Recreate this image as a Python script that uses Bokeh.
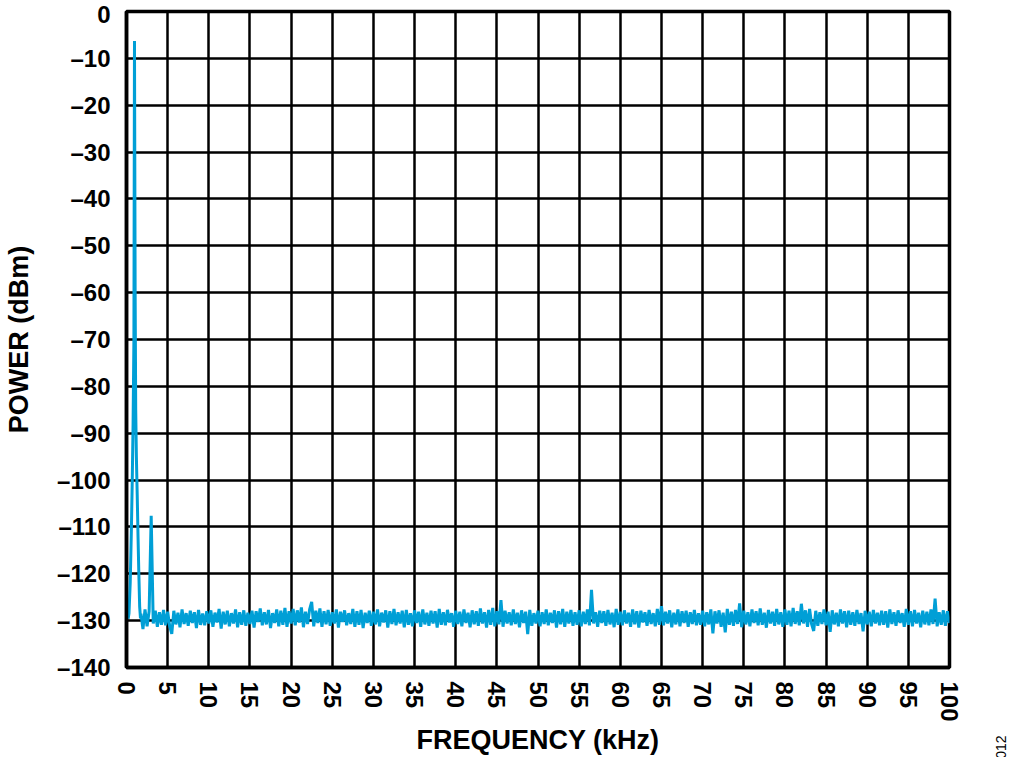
import numpy as np
from bokeh.plotting import figure
from bokeh.models import Range1d, FixedTicker, Label
from bokeh.embed import file_html
from bokeh.resources import INLINE

# ---------------- data ----------------
x_ticks = list(range(0, 101, 5))
y_ticks = list(range(-140, 1, 10))
x_tick_labels = {t: str(t) for t in x_ticks}
y_tick_labels = {t: ("\u2013" + str(-t) if t < 0 else "0") for t in y_ticks}

x_label = "FREQUENCY (kHz)"
y_label = "POWER (dBm)"
fig_code = "012"

# fundamental tone near 1 kHz (kHz, dBm)
peak_freq = [0.2, 0.3, 0.45, 0.6, 0.7, 0.8, 0.9, 0.97, 1.05, 1.12, 1.2, 1.3, 1.4, 1.5, 1.6, 1.7]
peak_power = [-129.6, -128.5, -122.0, -110.0, -100.0, -88.0, -70.0, -6.3,
              -60.0, -85.0, -95.0, -103.0, -112.0, -120.0, -127.0, -129.5]

# noise floor sampled every 0.25 kHz from 1.75 kHz
noise_start = 1.75
noise_step = 0.25
noise_a = [-128.5, -131.8, -127.6, -131.2, -128.0, -107.6, -130.6, -127.9, -131.3, -128.2, -130.9, -127.7, -131.0]
noise_05 = [-128.1, -131.2, -132.8, -127.9, -130.8, -128.3, -131.4, -127.6, -130.7, -128.4,
            -131.1, -127.9, -130.5, -128.2, -131.6, -127.7, -130.9, -128.5, -131.0, -128.0]
noise_10 = [-130.6, -127.8, -131.3, -128.3, -130.4, -127.5, -131.7, -128.1, -130.8, -127.9,
            -131.2, -128.4, -130.6, -127.6, -131.4, -128.2, -130.9, -127.8, -131.1, -128.3]
noise_15 = [-130.7, -127.9, -131.5, -128.0, -130.3, -127.4, -131.0, -128.2, -130.8, -127.7,
            -131.6, -128.4, -130.5, -127.6, -131.2, -127.9, -130.9, -127.3, -131.3, -128.0]
noise_20 = [-130.6, -127.5, -131.0, -127.8, -130.4, -127.2, -131.4, -128.1, -130.7, -127.6,
            -126.0, -131.2, -127.9, -130.5, -127.4, -131.3, -128.0, -130.8, -127.7, -131.1]
noise_25 = [-128.2, -130.6, -127.6, -131.5, -128.1, -130.3, -127.8, -131.0, -128.4, -130.7,
            -127.5, -131.3, -128.0, -130.9, -127.7, -131.6, -128.3, -130.5, -127.9, -131.1]
noise_30 = [-128.1, -130.8, -127.6, -131.2, -128.3, -130.4, -127.8, -131.5, -128.0, -130.7,
            -127.5, -131.0, -128.2, -130.6, -127.9, -131.4, -127.7, -130.9, -128.4, -131.2]
noise_35 = [-127.8, -130.5, -128.1, -131.3, -127.6, -130.8, -128.3, -131.1, -127.9, -130.6,
            -128.0, -131.5, -127.5, -130.9, -128.2, -131.0, -127.7, -130.4, -128.4, -131.3]
noise_40 = [-127.9, -130.7, -128.1, -131.2, -127.6, -130.5, -128.3, -131.4, -127.8, -130.8,
            -128.0, -131.1, -127.4, -130.6, -128.2, -131.5, -127.7, -130.9, -127.3, -131.2]
noise_45 = [-128.0, -130.8, -125.6, -131.3, -127.9, -130.6, -128.2, -131.0, -127.6, -130.7,
            -128.3, -131.4, -127.8, -130.5, -128.1, -132.9, -127.7, -131.1, -128.4, -130.6]
noise_50 = [-127.9, -131.2, -128.2, -130.7, -127.6, -131.0, -128.3, -130.5, -127.8, -131.5,
            -128.0, -130.8, -127.5, -131.3, -128.1, -130.6, -127.7, -131.1, -128.2, -130.9]
noise_55 = [-127.8, -131.2, -128.1, -130.7, -127.6, -131.0, -123.4, -130.6, -128.2, -131.3,
            -127.9, -130.5, -128.0, -131.1, -127.7, -130.8, -128.3, -131.4, -127.5, -130.9]
noise_60 = [-128.1, -131.0, -127.8, -130.6, -128.3, -131.3, -127.6, -130.8, -128.0, -131.5,
            -127.9, -130.4, -128.2, -131.1, -127.7, -130.7, -128.4, -131.2, -127.5, -130.9]
noise_65 = [-126.9, -131.0, -128.1, -130.6, -127.8, -131.4, -128.3, -130.8, -127.6, -131.2,
            -128.0, -130.5, -127.9, -131.3, -128.2, -130.7, -127.7, -131.0, -128.4, -130.9]
noise_70 = [-127.9, -131.2, -128.2, -130.8, -127.6, -132.7, -128.0, -130.6, -127.8, -131.3,
            -128.3, -132.5, -127.5, -130.9, -128.1, -131.1, -127.7, -130.7, -126.3, -131.4]
noise_75 = [-127.9, -130.8, -128.2, -131.2, -127.6, -130.5, -128.0, -131.0, -127.4, -130.9,
            -128.3, -131.5, -127.7, -130.6, -128.1, -131.1, -127.5, -130.8, -128.2, -131.3]
noise_80 = [-127.6, -130.9, -127.9, -131.2, -127.3, -130.7, -128.0, -131.0, -126.4, -130.6,
            -127.8, -131.3, -127.5, -130.8, -132.2, -127.9, -131.1, -128.2, -130.7, -127.6]
noise_85 = [-131.0, -128.1, -132.4, -127.8, -130.8, -128.3, -131.2, -127.6, -130.6, -128.0,
            -131.4, -127.9, -130.9, -128.2, -131.1, -127.7, -130.7, -128.4, -132.3, -127.9]
noise_90 = [-130.8, -128.1, -131.2, -127.7, -130.6, -128.3, -131.0, -127.9, -130.9, -128.0,
            -131.5, -127.6, -130.7, -128.2, -131.1, -127.8, -130.5, -128.4, -131.3, -127.5]
noise_95 = [-130.9, -128.0, -131.2, -127.7, -130.6, -128.3, -131.4, -127.9, -130.8, -128.1,
            -131.0, -127.6, -130.7, -125.3, -131.2, -128.2, -130.9, -127.8, -131.1, -128.0]
noise_100 = [-130.5]

noise_power = (noise_a + noise_05 + noise_10 + noise_15 + noise_20 + noise_25 + noise_30
               + noise_35 + noise_40 + noise_45 + noise_50 + noise_55 + noise_60 + noise_65
               + noise_70 + noise_75 + noise_80 + noise_85 + noise_90 + noise_95 + noise_100)
noise_freq = list(noise_start + noise_step * np.arange(len(noise_power)))

freq = list(peak_freq) + noise_freq
power = list(peak_power) + noise_power

# ---------------- figure ----------------
FONT = "Liberation Sans"
W, H = 1008, 757

p = figure(width=W, height=H, output_backend="svg", toolbar_location=None,
           x_range=Range1d(0, 100), y_range=Range1d(-140, 0),
           min_border_left=126, min_border_right=59,
           min_border_top=11, min_border_bottom=88)
p.background_fill_color = "white"
p.border_fill_color = "white"
p.outline_line_color = "black"
p.outline_line_width = 3.5

for g in (p.xgrid[0], p.ygrid[0]):
    g.grid_line_color = "black"
    g.grid_line_width = 2.5
    g.grid_line_alpha = 1.0
p.xgrid[0].ticker = FixedTicker(ticks=x_ticks)
p.ygrid[0].ticker = FixedTicker(ticks=y_ticks)

xa = p.xaxis[0]
ya = p.yaxis[0]
xa.ticker = FixedTicker(ticks=x_ticks)
ya.ticker = FixedTicker(ticks=y_ticks)
xa.major_label_overrides = x_tick_labels
ya.major_label_overrides = y_tick_labels
for a in (xa, ya):
    a.axis_line_color = "black"
    a.axis_line_width = 3.5
    a.major_tick_line_color = None
    a.minor_tick_line_color = None
    a.major_tick_out = 0
    a.major_tick_in = 0
    a.minor_tick_out = 0
    a.minor_tick_in = 0
    a.major_label_text_font = FONT
    a.major_label_text_font_style = "bold"
    a.major_label_text_font_size = "24px"
    a.major_label_text_color = "black"
    a.axis_label_text_font = FONT
    a.axis_label_text_font_style = "bold"
    a.axis_label_text_font_size = "27px"
    a.axis_label_text_color = "black"
xa.major_label_orientation = "vertical"
xa.major_label_standoff = 14
ya.major_label_standoff = 16
xa.axis_label = x_label
ya.axis_label = y_label
xa.axis_label_standoff = 0
ya.axis_label_standoff = 20

p.line(freq, power, line_color="#009FD6", line_width=3)

# figure code, placed in the right side panel so it is not clipped by the frame
p.add_layout(Label(x=106.2, y=-157.0, text=fig_code, angle=np.pi / 2,
                   text_align="center", text_baseline="middle",
                   text_font=FONT, text_font_size="14px", text_color="black"),
             "right")

open("out.html", "w").write(file_html(p, INLINE))
